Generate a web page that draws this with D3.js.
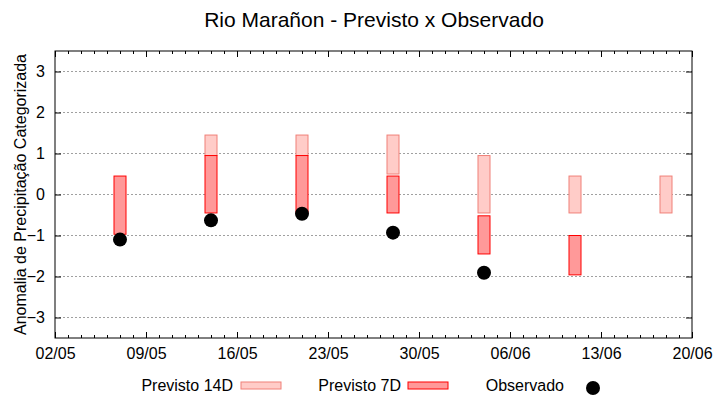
<!DOCTYPE html>
<html>
<head>
<meta charset="utf-8">
<script src="https://cdn.jsdelivr.net/npm/d3@7"></script>
<style>
  body { margin: 0; background: #fff; }
  svg { font-family: "Liberation Sans", Arial, sans-serif; }
</style>
</head>
<body>
<svg id="chart" width="720" height="400"></svg>
<script>
// dados
var datas = ["2024-05-07", "2024-05-14", "2024-05-21", "2024-05-28", "2024-06-04", "2024-06-11", "2024-06-18"];
var prev14Min = [null, 0.95, 0.95, 0.5, -0.45, -0.45, -0.45];
var prev14Max = [null, 1.45, 1.45, 1.45, 0.95, 0.45, 0.45];
var prev7Min = [-0.97, -0.45, -0.45, -0.45, -1.45, -1.96, null];
var prev7Max = [0.45, 0.95, 0.95, 0.45, -0.52, -1.0, null];
var observado = [-1.1, -0.63, -0.47, -0.93, -1.91, null, null];
var yTicks = [-3, -2, -1, 0, 1, 2, 3];
var xTickLabels = ["02/05", "09/05", "16/05", "23/05", "30/05", "06/06", "13/06", "20/06"];

var parse = d3.utcParse("%Y-%m-%d");
var svg = d3.select("#chart");
var m = {left: 55, right: 28, top: 51, bottom: 62};
var w = 720 - m.left - m.right, h = 400 - m.top - m.bottom;
var inicio = parse("2024-05-02");

var x = d3.scaleUtc()
  .domain([inicio, parse("2024-06-20")])
  .range([0, w]);
var y = d3.scaleLinear().domain([-3.5, 3.5]).range([h, 0]);

var g = svg.append("g").attr("transform", "translate(" + m.left + "," + m.top + ")");

// titulo
svg.append("text")
  .attr("x", 374).attr("y", 27)
  .attr("text-anchor", "middle")
  .style("font-size", "21px")
  .text("Rio Marañon - Previsto x Observado");

// grade
g.selectAll(".grid").data(yTicks).enter().append("line")
  .attr("x1", 0).attr("x2", w)
  .attr("y1", function(d) { return y(d); })
  .attr("y2", function(d) { return y(d); })
  .style("stroke", "#a0a0a0")
  .style("stroke-dasharray", "2,2");

// eixos
var majorX = xTickLabels.map(function(s, i) { return d3.utcDay.offset(inicio, i * 7); });
var minorX = d3.utcDay.range(inicio, parse("2024-06-21"));

function estiloTexto(a) {
  a.select(".domain").remove();
  a.selectAll("text").style("font-size", "16px")
    .style("font-family", "Liberation Sans, Arial, sans-serif").attr("fill", "#000");
}

g.append("g").attr("transform", "translate(0," + h + ")")
  .call(d3.axisBottom(x).tickValues(minorX).tickSize(-3).tickFormat(""))
  .call(function(a) { a.select(".domain").remove(); });
g.append("g")
  .call(d3.axisTop(x).tickValues(minorX).tickSize(-3).tickFormat(""))
  .call(function(a) { a.select(".domain").remove(); });

g.append("g").attr("transform", "translate(0," + h + ")")
  .call(d3.axisBottom(x).tickValues(majorX).tickSize(-6).tickPadding(10)
    .tickFormat(function(d, i) { return xTickLabels[i]; }))
  .call(estiloTexto);
g.append("g")
  .call(d3.axisTop(x).tickValues(majorX).tickSize(-6).tickFormat(""))
  .call(function(a) { a.select(".domain").remove(); });

g.append("g")
  .call(d3.axisLeft(y).tickValues(yTicks).tickSize(-6).tickPadding(10).tickFormat(d3.format("d")))
  .call(estiloTexto);
g.append("g").attr("transform", "translate(" + w + ",0)")
  .call(d3.axisRight(y).tickValues(yTicks).tickSize(-6).tickFormat(""))
  .call(function(a) { a.select(".domain").remove(); });

g.append("rect")
  .attr("width", w).attr("height", h)
  .style("fill", "none").style("stroke", "#000");

// rotulo eixo y
svg.append("text")
  .attr("transform", "translate(26," + (m.top + h / 2) + ") rotate(-90)")
  .attr("text-anchor", "middle")
  .style("font-size", "16px")
  .text("Anomalia de Precipitação Categorizada");

// barras
var bw = 12;
var linhas = datas.map(function(d, i) {
  return {t: parse(d), p14a: prev14Min[i], p14b: prev14Max[i], p7a: prev7Min[i], p7b: prev7Max[i], obs: observado[i]};
});

g.selectAll(".p14").data(linhas.filter(function(d) { return d.p14a !== null; }))
  .enter().append("rect")
  .attr("x", function(d) { return x(d.t) - bw / 2; })
  .attr("y", function(d) { return y(d.p14b); })
  .attr("width", bw)
  .attr("height", function(d) { return y(d.p14a) - y(d.p14b); })
  .style("fill", "#ffccc8").style("stroke", "#f08078");

g.selectAll(".p7").data(linhas.filter(function(d) { return d.p7a !== null; }))
  .enter().append("rect")
  .attr("x", function(d) { return x(d.t) - bw / 2; })
  .attr("y", function(d) { return y(d.p7b); })
  .attr("width", bw)
  .attr("height", function(d) { return y(d.p7a) - y(d.p7b); })
  .style("fill", "#ff9999").style("stroke", "#ff0000");

g.selectAll(".obs").data(linhas.filter(function(d) { return d.obs !== null; }))
  .enter().append("circle")
  .attr("cx", function(d) { return x(d.t); })
  .attr("cy", function(d) { return y(d.obs); })
  .attr("r", 7)
  .style("fill", "#000");

// legenda
var leg = svg.append("g").style("font-size", "16px");
leg.append("text").attr("x", 233).attr("y", 391).attr("text-anchor", "end").text("Previsto 14D");
leg.append("rect").attr("x", 241).attr("y", 382).attr("width", 40).attr("height", 7)
  .style("fill", "#ffccc8").style("stroke", "#f08078");
leg.append("text").attr("x", 401).attr("y", 391).attr("text-anchor", "end").text("Previsto 7D");
leg.append("rect").attr("x", 408).attr("y", 382).attr("width", 40).attr("height", 7)
  .style("fill", "#ff9999").style("stroke", "#ff0000");
leg.append("text").attr("x", 564).attr("y", 391).attr("text-anchor", "end").text("Observado");
leg.append("circle").attr("cx", 593).attr("cy", 388).attr("r", 7).style("fill", "#000");
</script>
</body>
</html>
